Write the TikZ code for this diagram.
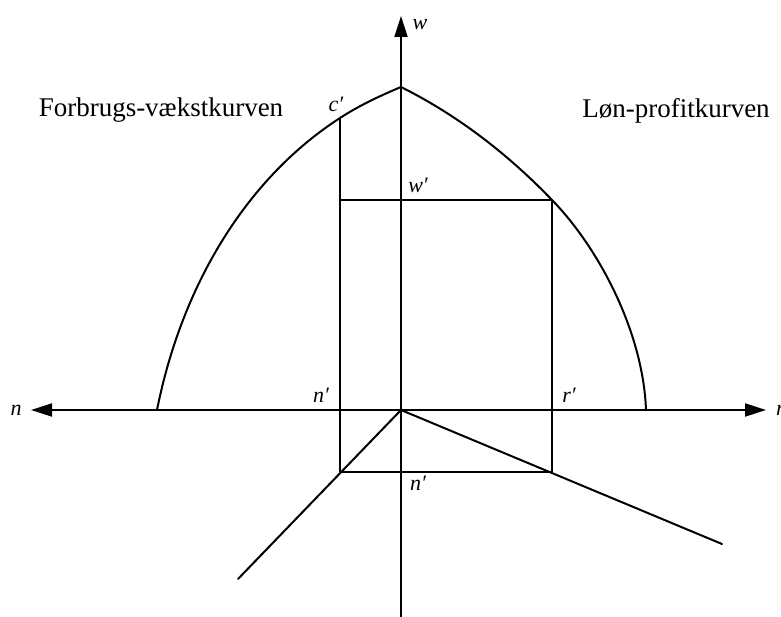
\documentclass[tikz,border=0pt]{standalone}
\usepackage{fontspec}
\setmainfont{Liberation Serif}
\usetikzlibrary{arrows.meta}
\begin{document}
\begin{tikzpicture}[x=1pt,y=-1pt,
  ln/.style={line width=2pt, line cap=round, line join=round},
  ax/.style={line width=2pt, -{Triangle[length=21pt,width=13pt]}},
  lbl/.style={font=\fontsize{22}{24}\selectfont\itshape, inner sep=0pt, anchor=base},
  ttl/.style={font=\fontsize{27}{30}\selectfont, inner sep=0pt, anchor=base}]
\useasboundingbox (0,0) rectangle (781,617);
% key points
\coordinate (O) at (401,410);
\coordinate (peak) at (401,87);
\coordinate (cp) at (340,118);
\coordinate (wr) at (552,200);
\coordinate (wl) at (340,200);
\coordinate (bl) at (340,472);
\coordinate (br) at (552,472);
\coordinate (lend) at (157,410);
\coordinate (rend) at (646,410);
\coordinate (axL) at (31,410);
\coordinate (axR) at (766,410);
\coordinate (axT) at (401,16);
\coordinate (axB) at (401,617);
\coordinate (rayL) at (238,579);
\coordinate (rayR) at (722,544);
% axes
\draw[ax] (O) -- (axL);
\draw[ax] (O) -- (axR);
\draw[ax] (axB) -- (axT);
% curves
\draw[ln] (peak) .. controls (381,95.4) and (360,105) .. (cp)
  .. controls (250,176) and (183,280) .. (lend);
\draw[ln] (peak) .. controls (451,112) and (502,148) .. (wr)
  .. controls (597,246) and (643,330) .. (rend);
% rectangle
\draw[ln] (cp) -- (bl) -- (br) -- (wr) -- (wl);
% rays
\draw[ln] (O) -- (rayL);
\draw[ln] (O) -- (rayR);
% labels
\node[lbl] (lw) at (420,30) {w};
\node[lbl] (ln) at (16,415) {n};
\node[lbl, anchor=base west] (lr) at (776,415) {r};
\node[lbl] (lc) at (336,112) {c′};
\node[lbl] (lwp) at (418,193) {w′};
\node[lbl] (lnp) at (321,402) {n′};
\node[lbl] (lrp) at (569,402) {r′};
\node[lbl] (lnb) at (418,490) {n′};
\node[ttl] (t1) at (161,117) {Forbrugs-vækstkurven};
\node[ttl] (t2) at (676,118) {Løn-profitkurven};
\end{tikzpicture}
\end{document}
